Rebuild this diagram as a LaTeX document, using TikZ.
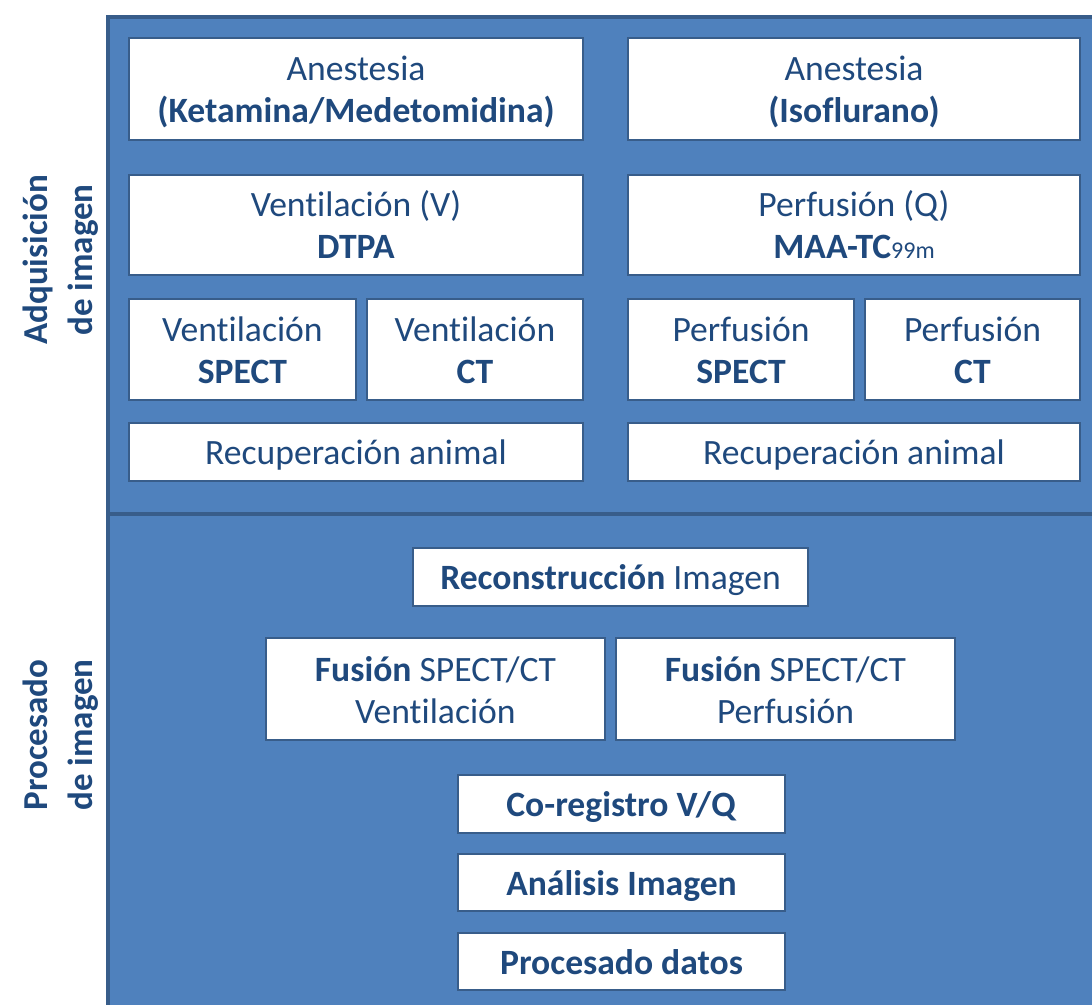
\documentclass[tikz,border=0pt]{standalone}
\usepackage{fontspec}
\setmainfont[Ligatures=NoCommon]{Carlito}
\usetikzlibrary{positioning}
\definecolor{panelblue}{HTML}{4F81BD}
\definecolor{paneledge}{HTML}{385D8A}
\definecolor{textblue}{HTML}{1F497D}
\tikzset{%
  % white step box inside the blue panel
  stagebox/.style={rectangle, draw=paneledge, fill=white, line width=0.7pt, text=textblue,
    align=center, inner sep=0pt, font=\fontsize{17.8}{21}\selectfont,
    text height=17pt, text depth=4.5pt},
  % boxes with two lines of text
  twolines/.style={text height=38.5pt},
  % sizes of the boxes
  halfrow/.style={stagebox, twolines, minimum width=227pt, minimum height=51pt},
  quarterrow/.style={stagebox, twolines, minimum width=#1, minimum height=50.5pt},
  thinrow/.style={stagebox, minimum width=#1, minimum height=29pt},
  % rotated phase label in the left margin
  phaselabel/.style={rotate=90, text=textblue, align=center,
    font=\bfseries\fontsize{17.5}{22.5}\selectfont},
}
\begin{document}
\begin{tikzpicture}[x=0.5pt, y=-0.5pt]
  \useasboundingbox (0,0) rectangle (1092,1005);
  % blue panel, cut by the page on the right and at the bottom
  \begin{scope}
    \clip (0,0) rectangle (1092,1005);
    \draw[fill=panelblue, draw=paneledge, line width=2pt] (108,17) rectangle (1110,1020);
    \draw[paneledge, line width=2pt] (108,514) -- (1110,514);
  \end{scope}

  % phase labels
  \node[phaselabel] (adqlabel) at (61,260) {Adquisición\\de imagen};
  \node[phaselabel] (proclabel) at (61,735) {Procesado\\de imagen};

  % image acquisition
  \node[halfrow] (anesK) at (356,89) {Anestesia\\\textbf{(Ketamina/Medetomidina)}};
  \node[halfrow, minimum width=226pt] (anesI) at (854,89) {Anestesia\\\textbf{(Isoflurano)}};
  \node[halfrow, minimum height=50pt] (ventDTPA) at (356,225) {Ventilación (V)\\\textbf{DTPA}};
  \node[halfrow, minimum width=226pt, minimum height=50pt] (perfMAA) at (854,225)
    {Perfusión (Q)\\\textbf{MAA-TC}{\fontsize{12}{12}\selectfont 99m}};
  \node[quarterrow=113.5pt] (ventSPECT) at (242.5,349.5) {Ventilación\\\textbf{SPECT}};
  \node[quarterrow=108pt] (ventCT) at (475,349.5) {Ventilación\\\textbf{CT}};
  \node[quarterrow=113pt] (perfSPECT) at (741,349.5) {Perfusión\\\textbf{SPECT}};
  \node[quarterrow=107.5pt] (perfCT) at (972.5,349.5) {Perfusión\\\textbf{CT}};
  \node[thinrow=227pt] (recupV) at (356,452) {Recuperación animal};
  \node[thinrow=226pt] (recupQ) at (854,452) {Recuperación animal};

  % image processing
  \node[thinrow=197.5pt] (recon) at (610.5,577) {\textbf{Reconstrucción} Imagen};
  \node[stagebox, twolines, minimum width=169.5pt, minimum height=51pt] (fusV) at (435.5,689)
    {\textbf{Fusión} SPECT/CT\\Ventilación};
  \node[stagebox, twolines, minimum width=169.5pt, minimum height=51pt] (fusQ) at (785.5,689)
    {\textbf{Fusión} SPECT/CT\\Perfusión};
  \node[thinrow=163.5pt] (coreg) at (621.5,804) {\textbf{Co-registro V/Q}};
  \node[thinrow=163.5pt, minimum height=28.5pt] (analisis) at (621.5,882.5) {\textbf{Análisis Imagen}};
  \node[thinrow=163.5pt, minimum height=28.5pt] (procdatos) at (621.5,961.5) {\textbf{Procesado datos}};
\end{tikzpicture}
\end{document}
